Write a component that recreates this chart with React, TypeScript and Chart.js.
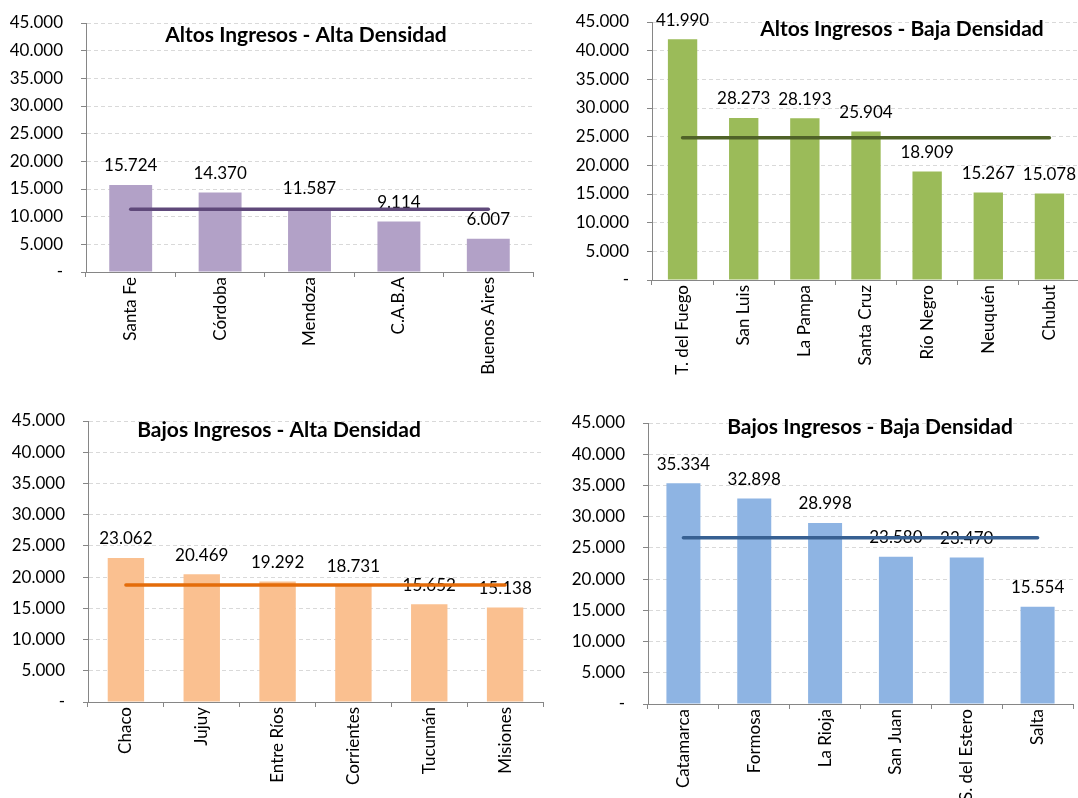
import React, { useEffect, useRef } from 'react';
import { Chart, registerables } from 'chart.js';

Chart.register(...registerables);

// ---------- DATA ----------
const catAltosAlta = ['Santa Fe', 'Córdoba', 'Mendoza', 'C.A.B.A', 'Buenos Aires'];
const valAltosAlta = [15724, 14370, 11587, 9114, 6007];
const promAltosAlta = [11360, 11360, 11360, 11360, 11360];

const catAltosBaja = ['T. del Fuego', 'San Luis', 'La Pampa', 'Santa Cruz', 'Río Negro', 'Neuquén', 'Chubut'];
const valAltosBaja = [41990, 28273, 28193, 25904, 18909, 15267, 15078];
const promAltosBaja = [24802, 24802, 24802, 24802, 24802, 24802, 24802];

const catBajosAlta = ['Chaco', 'Jujuy', 'Entre Ríos', 'Corrientes', 'Tucumán', 'Misiones'];
const valBajosAlta = [23062, 20469, 19292, 18731, 15652, 15138];
const promBajosAlta = [18724, 18724, 18724, 18724, 18724, 18724];

const catBajosBaja = ['Catamarca', 'Formosa', 'La Rioja', 'San Juan', 'S. del Estero', 'Salta'];
const valBajosBaja = [35334, 32898, 28998, 23580, 23470, 15554];
const promBajosBaja = [26639, 26639, 26639, 26639, 26639, 26639];

const yTickMax = 45000;
const yTickStep = 5000;

// ---------- HELPERS ----------
const FONT = 'Lato, "Open Sans", sans-serif';
const AXIS = '#868686';

function fmt(v: number): string {
  if (v === 0) return '-';
  return Math.round(v).toString().replace(/\B(?=(\d{3})+(?!\d))/g, '.');
}

type PanelProps = {
  title: string;
  labels: string[];
  values: number[];
  avg: number[];
  barColor: string;
  lineColor: string;
  left: number;
  top: number;
  width: number;
  height: number;
  padTop: number;
  padRight: number;
  yWidth: number;
  xHeight: number;
  titleX: number;
  titleY: number;
};

function Panel(p: PanelProps) {
  const ref = useRef<HTMLCanvasElement>(null);

  useEffect(() => {
    const canvas = ref.current;
    if (!canvas) return;

    const decor = {
      id: 'decor',
      afterDatasetDraw(chart: any, args: any) {
        if (args.index !== 0) return;
        const ctx = chart.ctx;
        ctx.save();
        ctx.font = `17px ${FONT}`;
        ctx.fillStyle = '#000';
        ctx.textAlign = 'center';
        ctx.textBaseline = 'middle';
        args.meta.data.forEach((el: any, i: number) => {
          ctx.fillText(fmt(p.values[i]), el.x, el.y - 19);
        });
        ctx.restore();
      },
      afterDraw(chart: any) {
        const ctx = chart.ctx;
        ctx.save();
        ctx.font = `bold 21px ${FONT}`;
        ctx.fillStyle = '#000';
        ctx.textAlign = 'center';
        ctx.textBaseline = 'middle';
        ctx.fillText(p.title, p.titleX, p.titleY);
        ctx.restore();
      },
    };

    const chart = new Chart(canvas, {
      data: {
        labels: p.labels,
        datasets: [
          {
            type: 'bar',
            data: p.values,
            backgroundColor: p.barColor,
            barPercentage: 0.48,
            categoryPercentage: 1,
            order: 1,
          } as any,
          {
            type: 'line',
            data: p.avg,
            borderColor: p.lineColor,
            borderWidth: 3.5,
            borderCapStyle: 'round',
            pointRadius: 0,
            fill: false,
            order: 0,
          } as any,
        ],
      },
      options: {
        responsive: false,
        animation: false,
        devicePixelRatio: 1,
        layout: { autoPadding: false, padding: { top: p.padTop, right: p.padRight, left: 0, bottom: 0 } },
        plugins: {
          legend: { display: false },
          tooltip: { enabled: false },
          title: { display: false },
        },
        scales: {
          x: {
            grid: {
              display: true,
              drawOnChartArea: false,
              drawTicks: true,
              tickLength: 5,
              tickColor: AXIS,
              offset: true,
            },
            border: { color: AXIS, width: 1 },
            ticks: {
              minRotation: 90,
              maxRotation: 90,
              autoSkip: false,
              padding: 0,
              color: '#000',
              font: { family: FONT, size: 17 },
            },
            afterFit: (s: any) => {
              s.height = p.xHeight;
              s.paddingLeft = 0;
              s.paddingRight = 0;
            },
          },
          y: {
            min: 0,
            max: yTickMax,
            ticks: {
              stepSize: yTickStep,
              callback: (v: any) => fmt(Number(v)),
              padding: 18,
              color: '#000',
              font: { family: FONT, size: 17 },
            },
            grid: {
              color: (c: any) => (c.index === 0 ? 'rgba(0,0,0,0)' : '#d9d9d9'),
              tickColor: AXIS,
              tickLength: 5,
            },
            border: { color: AXIS, width: 1, dash: [4, 3] },
            afterFit: (s: any) => {
              s.width = p.yWidth;
              s.paddingTop = 0;
              s.paddingBottom = 0;
            },
          },
        },
      } as any,
      plugins: [decor],
    });

    return () => chart.destroy();
  }, []);

  return (
    <canvas
      ref={ref}
      width={p.width}
      height={p.height}
      style={{ position: 'absolute', left: p.left, top: p.top, width: p.width, height: p.height }}
    />
  );
}

export default function App() {
  return (
    <div
      style={{
        position: 'absolute',
        left: 0,
        top: 0,
        width: 1078,
        height: 798,
        overflow: 'hidden',
        background: '#fff',
      }}
    >
      <Panel
        title="Altos Ingresos - Alta Densidad"
        labels={catAltosAlta}
        values={valAltosAlta}
        avg={promAltosAlta}
        barColor="#b2a1c7"
        lineColor="#5f497a"
        left={0}
        top={0}
        width={540}
        height={400}
        padTop={23}
        padRight={7}
        yWidth={86}
        xHeight={128}
        titleX={306}
        titleY={35}
      />
      <Panel
        title="Altos Ingresos - Baja Densidad"
        labels={catAltosBaja}
        values={valAltosBaja}
        avg={promAltosBaja}
        barColor="#9bbb59"
        lineColor="#4f6228"
        left={540}
        top={0}
        width={545}
        height={400}
        padTop={22}
        padRight={5}
        yWidth={112}
        xHeight={120}
        titleX={362}
        titleY={29}
      />
      <Panel
        title="Bajos Ingresos - Alta Densidad"
        labels={catBajosAlta}
        values={valBajosAlta}
        avg={promBajosAlta}
        barColor="#fac090"
        lineColor="#e46c0a"
        left={0}
        top={400}
        width={550}
        height={398}
        padTop={21}
        padRight={7}
        yWidth={88}
        xHeight={96}
        titleX={279}
        titleY={30}
      />
      <Panel
        title="Bajos Ingresos - Baja Densidad"
        labels={catBajosBaja}
        values={valBajosBaja}
        avg={promBajosBaja}
        barColor="#8eb4e3"
        lineColor="#376092"
        left={540}
        top={400}
        width={538}
        height={398}
        padTop={23}
        padRight={5}
        yWidth={108}
        xHeight={94}
        titleX={330}
        titleY={27}
      />
    </div>
  );
}
